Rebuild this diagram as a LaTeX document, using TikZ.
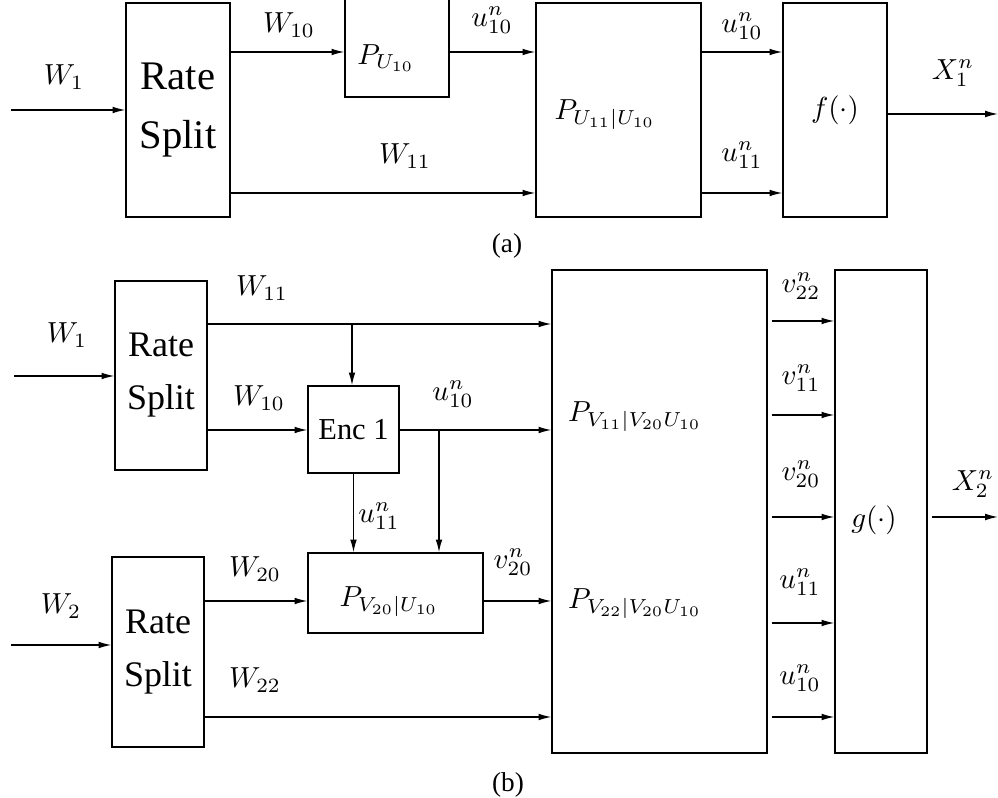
\documentclass[tikz,border=0pt]{standalone}
\usepackage[no-math]{fontspec}
\setmainfont{Liberation Serif}
\usetikzlibrary{arrows.meta}
\newcommand\pxu{0.3448pt}
\begin{document}
\begin{tikzpicture}[x=0.3448pt,y=-0.3448pt,
  line width=0.45pt,
  blk/.style={draw, inner sep=0pt, line width=0.45pt},
  arr/.style={-{Latex[length=4.4pt,width=2.3pt]}},
  lbl/.style={inner sep=0pt, font=\fontsize{10}{12}\selectfont},
  rsa/.style={align=center, font=\fontsize{14}{20.3}\selectfont},
  rsb/.style={align=center, font=\fontsize{12.4}{18.3}\selectfont},
  captxt/.style={inner sep=0pt, font=\fontsize{9.4}{11}\selectfont}]
\useasboundingbox (0,0) rectangle (998,798);

% ---------------- (a) ----------------
\node[blk, rsa, minimum width=104*\pxu, minimum height=214*\pxu] (rs1) at (178,110) {Rate\\Split};
\node[blk, minimum width=104*\pxu, minimum height=98*\pxu] (pu) at (397,48) {};
\node[blk, minimum width=165*\pxu, minimum height=214*\pxu] (pc) at (618.5,110) {};
\node[blk, lbl, minimum width=104*\pxu, minimum height=214*\pxu] (fa) at (835,110) {$f(\cdot)$};

\coordinate (inA) at (11,110);
\coordinate (yA1) at (0,52);
\coordinate (yA2) at (0,193);
\coordinate (outA) at (998,114);
\draw[arr] (inA) -- (rs1.west);
\draw[arr] (rs1.east|-yA1) -- (pu.west|-yA1);
\draw[arr] (pu.east|-yA1) -- (pc.west|-yA1);
\draw[arr] (pc.east|-yA1) -- (fa.west|-yA1);
\draw[arr] (rs1.east|-yA2) -- (pc.west|-yA2);
\draw[arr] (pc.east|-yA2) -- (fa.west|-yA2);
\draw[arr] (fa.east|-outA) -- (outA);

\node[lbl] (lW1a) at (64,77) {$W_1$};
\node[lbl] (lW10a) at (289,25) {$W_{10}$};
\node[lbl] (lPU) at (386,58) {$P_{U_{10}}$};
\node[lbl] (lu10a) at (492,20) {$u_{10}^n$};
\node[lbl] (lW11a) at (405,156) {$W_{11}$};
\node[lbl] (lPC) at (605,115) {$P_{U_{11}|U_{10}}$};
\node[lbl] (lu10a2) at (742,26) {$u_{10}^n$};
\node[lbl] (lu11a) at (742,155) {$u_{11}^n$};
\node[lbl] (lX1) at (953,73) {$X_1^n$};
\node[captxt] (capA) at (507,246) {(a)};

% ---------------- (b) ----------------
\node[blk, rsb, minimum width=92*\pxu, minimum height=189*\pxu] (rs2) at (161,375.5) {Rate\\Split};
\node[blk, rsb, minimum width=92*\pxu, minimum height=190*\pxu] (rs3) at (158,652) {Rate\\Split};
\node[blk, minimum width=91*\pxu, minimum height=87*\pxu, font=\fontsize{10.5}{12}\selectfont] (enc) at (353.5,429.5) {Enc 1};
\node[blk, minimum width=175*\pxu, minimum height=80*\pxu] (pv) at (395.5,593) {};
\node[blk, minimum width=215*\pxu, minimum height=483*\pxu] (big) at (659.5,511.5) {};
\node[blk, minimum width=92*\pxu, minimum height=483*\pxu] (g) at (881,511.5) {};

\coordinate (inB1) at (14,376);
\coordinate (inB2) at (11,645);
\coordinate (yB11) at (0,324);
\coordinate (yB10) at (0,430);
\coordinate (yB20) at (0,601);
\coordinate (yB22) at (0,717);
\coordinate (br1) at (352,324);
\coordinate (br2) at (439,430);
\coordinate (yV1) at (0,321);
\coordinate (yV2) at (0,415);
\coordinate (yV3) at (0,517);
\coordinate (yV4) at (0,623);
\coordinate (yV5) at (0,717);
\coordinate (outB) at (998,517);

\draw[arr] (inB1) -- (inB1-|rs2.west);
\draw[arr] (inB2) -- (inB2-|rs3.west);
\draw[arr] (rs2.east|-yB11) -- (big.west|-yB11);
\draw[arr] (br1) -- (br1|-enc.north);
\draw[arr] (rs2.east|-yB10) -- (enc.west|-yB10);
\draw[arr] (enc.east|-yB10) -- (big.west|-yB10);
\draw[arr] (br2) -- (br2|-pv.north);
\draw[arr] (enc.south) -- (enc.south|-pv.north);
\draw[arr] (rs3.east|-yB20) -- (pv.west|-yB20);
\draw[arr] (pv.east|-yB20) -- (big.west|-yB20);
\draw[arr] (rs3.east|-yB22) -- (big.west|-yB22);
\draw[arr, shorten <=1.4pt] (big.east|-yV1) -- (g.west|-yV1);
\draw[arr, shorten <=1.4pt] (big.east|-yV2) -- (g.west|-yV2);
\draw[arr, shorten <=1.4pt] (big.east|-yV3) -- (g.west|-yV3);
\draw[arr, shorten <=1.4pt] (big.east|-yV4) -- (g.west|-yV4);
\draw[arr, shorten <=1.4pt] (big.east|-yV5) -- (g.west|-yV5);
\draw[arr, shorten <=1.4pt] (g.east|-outB) -- (outB);

\node[lbl] (lW1b) at (67,335) {$W_1$};
\node[lbl] (lW11b) at (262,288) {$W_{11}$};
\node[lbl] (lW10b) at (259,398) {$W_{10}$};
\node[lbl] (lu10b) at (453,394) {$u_{10}^n$};
\node[lbl] (lu11b) at (379,516) {$u_{11}^n$};
\node[lbl] (lW2) at (61,606) {$W_2$};
\node[lbl] (lW20) at (255,569) {$W_{20}$};
\node[lbl] (lW22) at (255,680) {$W_{22}$};
\node[lbl] (lv20b) at (513,562) {$v_{20}^n$};
\node[lbl] (lPV20) at (389,602) {$P_{V_{20}|U_{10}}$};
\node[lbl] (lPV11) at (635,417) {$P_{V_{11}|V_{20}U_{10}}$};
\node[lbl] (lPV22) at (635,604) {$P_{V_{22}|V_{20}U_{10}}$};
\node[lbl] (lv22) at (801,286) {$v_{22}^n$};
\node[lbl] (lv11) at (801,378) {$v_{11}^n$};
\node[lbl] (lv20) at (801,474) {$v_{20}^n$};
\node[lbl] (lu11) at (800,582) {$u_{11}^n$};
\node[lbl] (lu10) at (800,678) {$u_{10}^n$};
\node[lbl] (lg) at (874,520) {$g(\cdot)$};
\node[lbl] (lX2) at (973,484) {$X_2^n$};
\node[captxt] (capB) at (508,785) {(b)};
\end{tikzpicture}
\end{document}
